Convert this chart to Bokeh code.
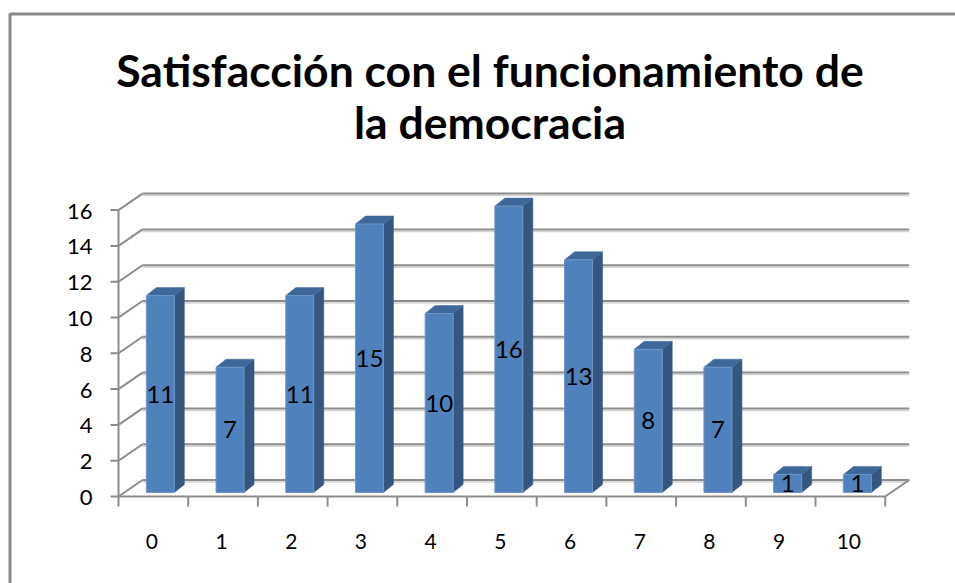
import numpy as np
from bokeh.plotting import figure
from bokeh.models import Range1d
from bokeh.core.properties import value
from bokeh.embed import file_html
from bokeh.resources import INLINE

# ---------------- data ----------------
categories = ["0", "1", "2", "3", "4", "5", "6", "7", "8", "9", "10"]
counts = [11, 7, 11, 15, 10, 16, 13, 8, 7, 1, 1]
y_ticks = [0, 2, 4, 6, 8, 10, 12, 14, 16]
y_tick_labels = ["0", "2", "4", "6", "8", "10", "12", "14", "16"]
title_lines = ["Satisfacción con el funcionamiento de", "la democracia"]

# ---------------- layout (page pixels -> data units) ----------------
X0, SX = 118.0, 69.7   # page x of category-axis origin, px per category
Y0, SY = 496.0, 17.9   # page y of value 0, px per value unit


def U(px):
    return (px - X0) / SX


def V(py):
    return (Y0 - py) / SY


W, H = 955, 583
p = figure(width=W, height=H, output_backend="svg", toolbar_location=None,
           x_range=Range1d(U(0), U(W)), y_range=Range1d(V(H), V(0)),
           min_border=0, x_axis_location=None, y_axis_location=None,
           outline_line_color=None, background_fill_color="white",
           border_fill_color="white")
p.grid.visible = False

GRID = "#8c8c8c"
SHADOW = "#d2d2d2"
FONT = value("Lato")

n = len(categories)
vals = np.array(counts, dtype=float)
ticks = np.array(y_ticks, dtype=float)

# back-wall depth offset
BDX = 24.0 / SX
BDY = 16.5 / SY

# chart border (frame of the chart area)
p.line(x=[U(9.5), U(9.5), U(980)], y=[V(620), V(13.5), V(13.5)],
       line_color="#888888", line_width=3)

# back wall gridlines (with light shadow)
sh = 2.0 / SY
p.multi_line(xs=[[BDX, n + BDX] for t in ticks],
             ys=[[t + BDY - sh, t + BDY - sh] for t in ticks],
             line_color=SHADOW, line_width=1.5)
p.multi_line(xs=[[BDX, n + BDX] for t in ticks],
             ys=[[t + BDY, t + BDY] for t in ticks],
             line_color=GRID, line_width=2)
# side wall diagonals
p.multi_line(xs=[[0, BDX] for t in ticks],
             ys=[[t, t + BDY] for t in ticks],
             line_color=GRID, line_width=2)

# floor front edge and right diagonal
p.line(x=[0, n], y=[0, 0], line_color=GRID, line_width=2)
p.line(x=[n, n + BDX], y=[0, BDY], line_color=GRID, line_width=2)

# value axis line and ticks
p.line(x=[0, 0], y=[0, ticks.max()], line_color=GRID, line_width=2)
p.multi_line(xs=[[U(110), 0] for t in ticks], ys=[[t, t] for t in ticks],
             line_color=GRID, line_width=2)
p.text(x=[U(92)] * len(ticks), y=ticks - 1.0 / SY, text=y_tick_labels,
       text_font=FONT, text_font_size="22px", text_align="right",
       text_baseline="middle", text_color="black")

# category ticks and labels
edges = np.arange(n + 1, dtype=float)
p.multi_line(xs=[[e, e] for e in edges], ys=[[0, V(506)] for e in edges],
             line_color=GRID, line_width=2)
p.text(x=np.arange(n) + 0.5 - 1.5 / SX, y=[V(541)] * n, text=categories,
       text_font=FONT, text_font_size="21px", text_align="center",
       text_baseline="middle", text_color="black")

# ---------------- 3D bars ----------------
FDX = 7.0 / SX      # front-face shift into depth
FDV = 4.0 / SY
HALF = 14.0 / SX    # half width of front face
DDX = 10.0 / SX     # bar depth
DDV = 8.0 / SY

cx = np.arange(n) + 0.5 + FDX
left = cx - HALF
right = cx + HALF
bot = np.full(n, FDV)
top = vals + FDV

side_xs = [[r, r + DDX, r + DDX, r] for r in right]
side_ys = [[b, b + DDV, t + DDV, t] for b, t in zip(bot, top)]
top_xs = [[l, l + DDX, r + DDX, r] for l, r in zip(left, right)]
top_ys = [[t, t + DDV, t + DDV, t] for t in top]

p.patches(xs=side_xs, ys=side_ys, fill_color="#34567f", line_color="#34567f",
          line_width=0.5)
p.patches(xs=top_xs, ys=top_ys, fill_color="#3e6899", line_color="#3e6899",
          line_width=0.5)
p.vbar(x=cx, width=2 * HALF, bottom=bot, top=top, fill_color="#4f81bd",
       line_color="#6f96c8", line_width=1)

# data labels
p.text(x=cx, y=vals / 2 + FDV, text=[str(c) for c in counts],
       text_font=FONT, text_font_size="24px", text_align="center",
       text_baseline="middle", text_color="black")

# title
p.text(x=[U(489.5)] * 2, y=[V(69), V(121)], text=title_lines,
       text_font=FONT, text_font_style="bold", text_font_size="44.5px",
       text_align="center", text_baseline="alphabetic", text_color="black")

open("out.html", "w").write(file_html(p, INLINE))
